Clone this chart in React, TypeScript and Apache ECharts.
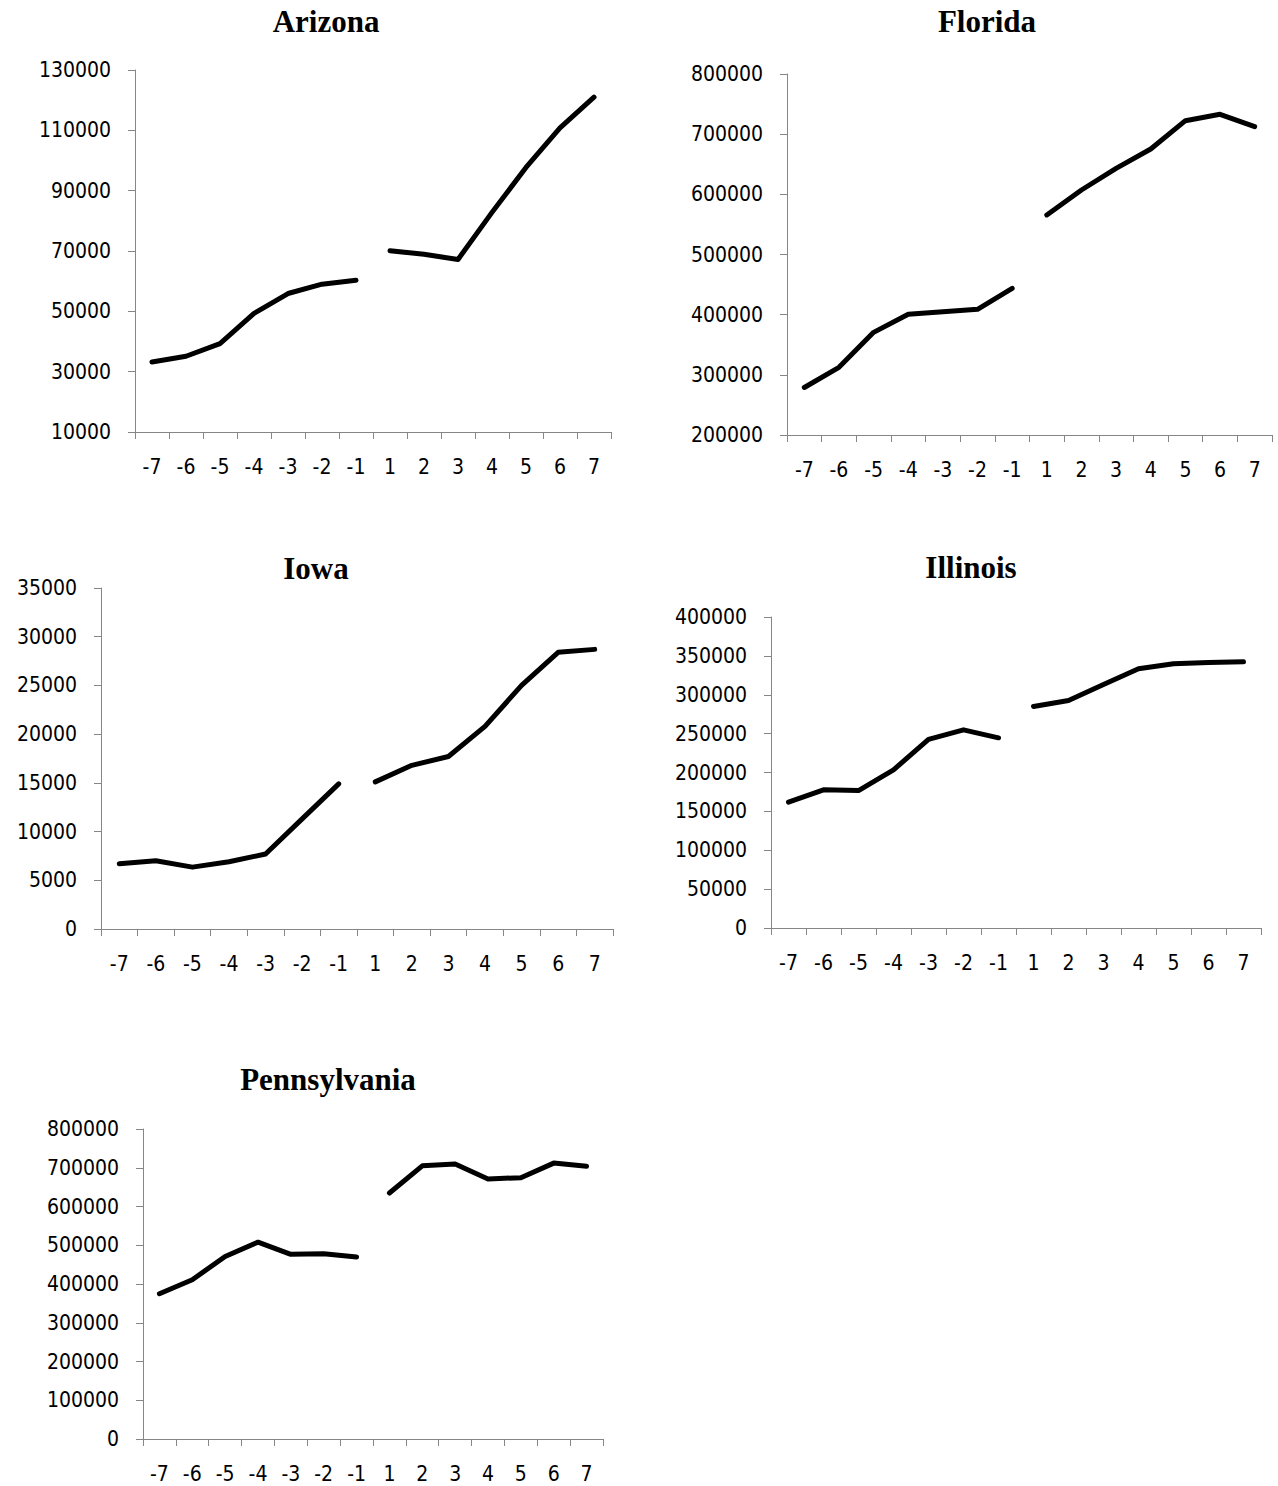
import React, { useEffect, useRef } from "react";
import * as echarts from "echarts";

const categories = ["-7", "-6", "-5", "-4", "-3", "-2", "-1", "1", "2", "3", "4", "5", "6", "7"];

const arizona = [33200, 35100, 39300, 49300, 55900, 59000, 60300, 70100, 68900, 67200, 82800, 97700, 110800, 121000];
const florida = [279000, 312500, 370600, 400600, 405000, 408900, 443800, 565700, 607200, 643200, 675300, 722400, 733000, 712500];
const iowa = [6700, 7000, 6350, 6900, 7700, 11300, 14900, 15100, 16800, 17700, 20800, 25000, 28400, 28700];
const illinois = [161800, 177700, 176800, 203400, 242500, 254900, 244600, 285000, 292700, 313300, 333500, 339900, 341600, 342500];
const pennsylvania = [375000, 411000, 471000, 508000, 476500, 478000, 469700, 634800, 705000, 709700, 671000, 674400, 712000, 703600];

const titles = ["Arizona", "Florida", "Iowa", "Illinois", "Pennsylvania"];
const yMins = [10000, 200000, 0, 0, 0];
const yMaxs = [130000, 800000, 35000, 400000, 800000];
const yIntervals = [20000, 100000, 5000, 50000, 100000];

const panels = [
  { grid: { left: 135, top: 70, width: 476, height: 362 }, title: [326, 21] },
  { grid: { left: 787, top: 74, width: 485, height: 361 }, title: [987, 21] },
  { grid: { left: 101, top: 588, width: 512, height: 341 }, title: [316, 568] },
  { grid: { left: 771, top: 617, width: 490, height: 311 }, title: [971, 567] },
  { grid: { left: 143, top: 1129, width: 460, height: 310 }, title: [328, 1079] },
];

const seriesData = [arizona, florida, iowa, illinois, pennsylvania];

const tickFont = "'Liberation Sans Narrow', 'DejaVu Sans Condensed', 'Liberation Sans', sans-serif";
const axisGray = "#868686";

export default function App() {
  const ref = useRef<HTMLDivElement>(null);
  useEffect(() => {
    if (!ref.current) return;
    const chart = echarts.init(ref.current, null, { renderer: "svg" });
    const grids: any[] = [];
    const xAxes: any[] = [];
    const yAxes: any[] = [];
    const series: any[] = [];
    const graphics: any[] = [];
    panels.forEach((p, i) => {
      grids.push({ ...p.grid, containLabel: false });
      xAxes.push({
        type: "category",
        gridIndex: i,
        data: categories,
        boundaryGap: true,
        axisLine: { show: true, lineStyle: { color: axisGray, width: 1 } },
        axisTick: { show: true, inside: false, length: 7, lineStyle: { color: axisGray, width: 1 } },
        axisLabel: { color: "#000", fontSize: 21, fontFamily: tickFont, margin: 24, interval: 0 },
        splitLine: { show: false },
      });
      yAxes.push({
        type: "value",
        gridIndex: i,
        min: yMins[i],
        max: yMaxs[i],
        interval: yIntervals[i],
        axisLine: { show: true, lineStyle: { color: axisGray, width: 1 } },
        axisTick: { show: true, inside: false, length: 7, lineStyle: { color: axisGray, width: 1 } },
        axisLabel: {
          color: "#000",
          fontSize: 21,
          fontFamily: tickFont,
          margin: 24,
          formatter: (v: number) => String(v),
        },
        splitLine: { show: false },
      });
      const vals = seriesData[i];
      const pre = vals.map((v, k) => (k < 7 ? v : "-"));
      const post = vals.map((v, k) => (k >= 7 ? v : "-"));
      [pre, post].forEach((d) => {
        series.push({
          type: "line",
          xAxisIndex: i,
          yAxisIndex: i,
          data: d,
          symbol: "none",
          connectNulls: false,
          lineStyle: { color: "#000", width: 5, cap: "round", join: "round" },
          emphasis: { disabled: true },
        });
      });
      graphics.push({
        type: "text",
        x: p.title[0],
        y: p.title[1],
        style: {
          text: titles[i],
          fill: "#000",
          font: "bold 31px 'Liberation Serif', 'Times New Roman', serif",
          textAlign: "center",
          textVerticalAlign: "middle",
        },
      });
    });
    chart.setOption({
      animation: false,
      backgroundColor: "#fff",
      grid: grids,
      xAxis: xAxes,
      yAxis: yAxes,
      series,
      graphic: graphics,
    });
    return () => chart.dispose();
  }, []);
  return (
    <div
      ref={ref}
      style={{ position: "absolute", left: 0, top: 0, width: 1278, height: 1486 }}
    />
  );
}
